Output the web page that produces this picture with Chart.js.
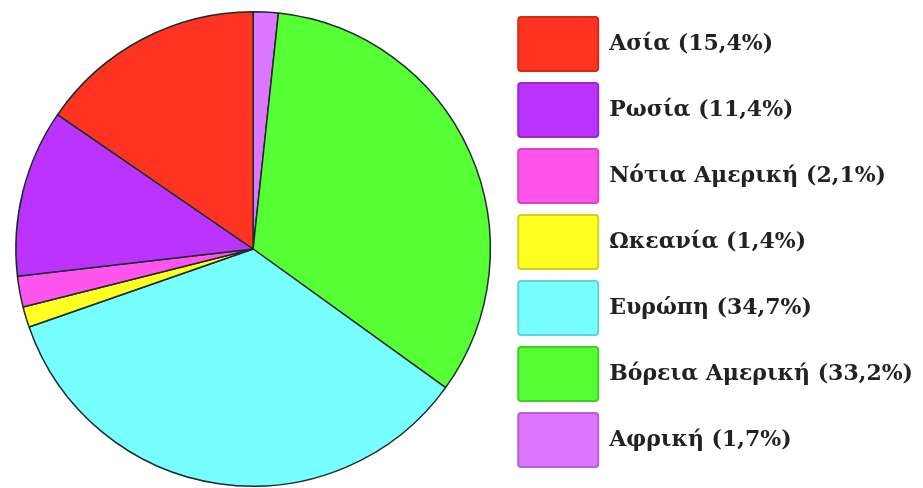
<!DOCTYPE html>
<html>
<head>
<meta charset="utf-8">
<script src="https://cdn.jsdelivr.net/npm/chart.js@4/dist/chart.umd.min.js"></script>
<style>
  html, body { margin: 0; padding: 0; background: #ffffff; }
  #wrap { width: 923px; height: 488px; position: relative; }
</style>
</head>
<body>
<div id="wrap"><canvas id="c"></canvas></div>
<script>
// Clockwise from 12 o'clock
const categories = ["Αφρική", "Βόρεια Αμερική", "Ευρώπη", "Ωκεανία", "Νότια Αμερική", "Ρωσία", "Ασία"];
const shares = [1.7, 33.2, 34.7, 1.4, 2.1, 11.4, 15.4];
const sliceColors = ["#dd77ff", "#55ff33", "#77ffff", "#ffff22", "#ff55ee", "#bb33ff", "#ff3322"];
const legendBorders = ["#b85fd6", "#45cc2a", "#5fd2d2", "#d2d21c", "#d645c8", "#962ad0", "#d42a1c"];

const fmt = v => v.toFixed(1).replace('.', ',');

const moveLegend = {
  id: 'moveLegend',
  afterLayout(chart) {
    const lg = chart.legend;
    lg.top -= 6;
    lg.bottom -= 6;
  }
};

new Chart(document.getElementById('c'), {
  type: 'pie',
  data: {
    labels: categories,
    datasets: [{
      data: shares,
      backgroundColor: sliceColors,
      borderColor: '#1c2c2c',
      borderWidth: 1.5,
      hoverOffset: 0
    }]
  },
  options: {
    responsive: true,
    maintainAspectRatio: false,
    animation: false,
    layout: { padding: { top: 11, bottom: 1, left: 0, right: 0 } },
    plugins: {
      tooltip: { enabled: false },
      legend: {
        position: 'right',
        align: 'start',
        reverse: true,
        labels: {
          boxWidth: 80,
          boxHeight: 54,
          padding: 12,
          color: '#222',
          useBorderRadius: true,
          borderRadius: 3,
          font: { family: '"DejaVu Serif", serif', size: 22, weight: 'bold' },
          generateLabels(chart) {
            return chart.data.labels.map((l, i) => ({
              text: l + ' (' + fmt(shares[i]) + '%)',
              fillStyle: sliceColors[i],
              strokeStyle: legendBorders[i],
              lineWidth: 2,
              borderRadius: 3,
              fontColor: '#222',
              hidden: false,
              index: i
            }));
          }
        }
      }
    }
  },
  plugins: [moveLegend]
});
</script>
</body>
</html>
